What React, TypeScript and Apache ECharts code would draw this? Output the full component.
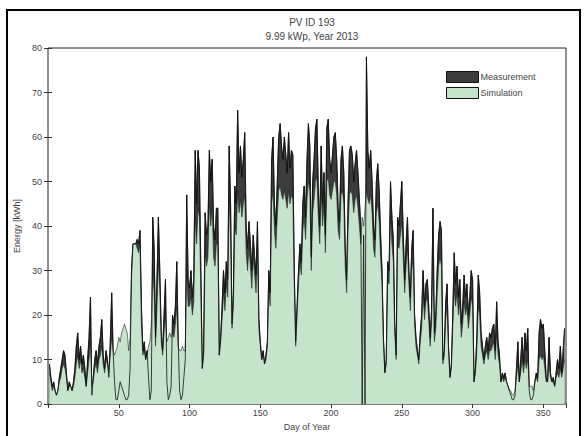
import React, { useEffect, useRef } from "react";
import * as echarts from "echarts";

const titleLines = ["PV ID 193", "9.99 kWp, Year 2013"];
const xAxisLabel = "Day of Year";
const yAxisLabel = "Energy [kWh]";
const seriesNames = ["Measurement", "Simulation"];

// daily energy, day 1..365
const measurement = [
  9, 6, 4, 5, 3, 2, 3, 6, 8, 10,
  12, 11, 7, 3, 5, 4, 3, 5, 8, 13,
  16, 10, 13, 9, 11, 8, 4, 10, 15, 24,
  2, 6, 10, 12, 9, 13, 15, 19, 11, 8,
  12, 10, 6, 14, 25, 12, 5, 1, 1, 3,
  5, 4, 3, 2, 1, 1, 2, 8, 30, 36,
  36, 36, 37, 36, 39, 22, 12, 14, 10, 12,
  6, 1, 3, 42, 35, 15, 28, 42, 30, 16,
  12, 20, 28, 5, 1, 2, 4, 20, 18, 22,
  32, 14, 3, 1, 2, 6, 10, 47, 28, 26,
  30, 24, 28, 57, 45, 57, 53, 30, 8, 12,
  43, 38, 40, 57, 50, 55, 40, 37, 44, 44,
  11, 15, 22, 30, 25, 32, 28, 58, 45, 18,
  25, 49, 45, 66, 52, 58, 51, 55, 61, 40,
  35, 41, 36, 30, 38, 33, 29, 41, 19, 14,
  10, 12, 9, 11, 14, 30, 25, 55, 60, 45,
  40, 50, 60, 63, 58, 55, 60, 56, 52, 61,
  53, 57, 56, 30, 14, 22, 30, 36, 32, 45,
  49, 42, 55, 63, 58, 33, 50, 55, 62, 64,
  48, 40, 58, 45, 52, 38, 62, 64, 55, 52,
  56, 60, 61, 55, 44, 41, 55, 58, 52, 35,
  28, 45, 57, 58, 56, 50, 54, 57, 52, 46,
  40, 0, 38, 0, 78, 57, 53, 57, 50, 40,
  37, 50, 54, 48, 38, 30, 15, 7, 10, 32,
  30, 50, 42, 37, 18, 11, 42, 40, 45, 50,
  38, 28, 36, 42, 30, 24, 35, 39, 20, 15,
  12, 10, 16, 20, 30, 22, 27, 28, 22, 15,
  21, 44, 16, 20, 30, 38, 41, 39, 10, 12,
  23, 27, 13, 6, 9, 20, 34, 27, 31, 24,
  28, 18, 22, 29, 24, 27, 20, 24, 30, 28,
  5, 8, 15, 29, 25, 16, 13, 10, 13, 15,
  12, 16, 15, 17, 18, 12, 23, 14, 11, 5,
  7, 6, 7, 5, 4, 3, 2, 1, 1, 2,
  8, 14, 5, 10, 15, 9, 16, 12, 17, 3,
  1, 1, 2, 5, 7, 6, 16, 19, 17, 18,
  12, 6, 5, 15, 7, 5, 6, 4, 7, 10,
  8, 13, 7, 12, 17,
];

const simulation = [
  7, 5, 3, 4, 3, 2, 3, 5, 6, 8,
  9, 8, 6, 3, 4, 4, 3, 4, 6, 9,
  11, 8, 10, 7, 8, 6, 4, 7, 10, 14,
  4, 5, 8, 9, 7, 10, 11, 13, 9, 7,
  10, 9, 7, 11, 15, 12, 11, 12, 13, 15,
  14, 16, 17, 18, 17, 16, 12, 15, 28, 36,
  36, 36, 35, 34, 36, 18, 11, 12, 10, 11,
  13, 14, 18, 30, 25, 13, 22, 32, 26, 14,
  11, 16, 20, 14, 15, 16, 15, 16, 15, 18,
  22, 13, 12, 12, 13, 12, 12, 30, 22, 22,
  24, 20, 23, 42, 36, 44, 42, 25, 8, 11,
  34, 31, 33, 45, 40, 44, 33, 31, 36, 36,
  11, 14, 19, 25, 21, 27, 24, 46, 38, 17,
  22, 40, 38, 48, 43, 46, 42, 45, 47, 34,
  30, 35, 31, 26, 33, 29, 25, 35, 17, 13,
  10, 11, 9, 10, 13, 26, 22, 45, 48, 39,
  35, 42, 48, 49, 47, 46, 48, 46, 44, 48,
  45, 47, 46, 27, 13, 20, 27, 32, 29, 39,
  42, 37, 46, 50, 48, 30, 43, 46, 50, 51,
  42, 36, 48, 40, 45, 34, 50, 51, 47, 46,
  48, 50, 50, 47, 39, 37, 47, 48, 45, 31,
  25, 39, 47, 48, 47, 43, 46, 47, 44, 40,
  36, 42, 40, 44, 48, 46, 45, 47, 43, 35,
  33, 43, 45, 41, 33, 27, 14, 7, 9, 28,
  27, 42, 36, 32, 16, 10, 36, 35, 38, 41,
  33, 25, 31, 35, 27, 21, 30, 33, 18, 13,
  11, 9, 14, 17, 25, 19, 23, 24, 19, 13,
  18, 33, 14, 17, 25, 31, 33, 31, 9, 11,
  19, 22, 12, 6, 8, 17, 26, 22, 25, 20,
  23, 15, 18, 23, 20, 22, 17, 20, 24, 22,
  5, 7, 12, 22, 20, 13, 11, 9, 11, 12,
  10, 12, 12, 13, 14, 10, 16, 11, 9, 5,
  6, 5, 6, 5, 4, 3, 3, 2, 2, 3,
  6, 9, 5, 7, 10, 7, 10, 8, 10, 4,
  4, 4, 3, 5, 6, 5, 10, 11, 10, 11,
  8, 5, 5, 9, 6, 5, 5, 4, 6, 7,
  6, 8, 6, 8, 10,
];

const xTicks = [50, 100, 150, 200, 250, 300, 350];
const yTicks = [0, 10, 20, 30, 40, 50, 60, 70, 80];

const FONT = "'Liberation Sans', Arial, sans-serif";

export default function App() {
  const ref = useRef<HTMLDivElement>(null);
  useEffect(() => {
    if (!ref.current) return;
    const chart = echarts.init(ref.current, undefined, { renderer: "svg" });
    const mData = measurement.map((v, i) => [i + 1, v]);
    const sData = simulation.map((v, i) => [i + 1, v]);
    const axisText = { fontFamily: FONT, fontSize: 9, color: "#444" };
    chart.setOption({
      animation: false,
      backgroundColor: "#fff",
      title: {
        text: titleLines.join("\n"),
        left: 307,
        top: 10,
        textAlign: "center",
        textStyle: { fontFamily: FONT, fontSize: 10, fontWeight: "normal", color: "#444", lineHeight: 14 },
      },
      legend: {
        left: 441,
        top: 66,
        orient: "vertical",
        itemWidth: 32,
        itemHeight: 11,
        itemGap: 4,
        textStyle: { fontFamily: FONT, fontSize: 9, color: "#444", padding: [0, 0, 0, -3] },
        data: [
          { name: seriesNames[0], icon: "rect", itemStyle: { color: "#3c3c3c", borderColor: "#111", borderWidth: 1 } },
          { name: seriesNames[1], icon: "rect", itemStyle: { color: "#c6e4cc", borderColor: "#111", borderWidth: 1 } },
        ],
      },
      grid: { left: 48, right: 18, top: 48, bottom: 30, show: true, borderColor: "#222", borderWidth: 1, backgroundColor: "transparent" },
      xAxis: [
        {
          type: "value",
          min: 0,
          max: 366,
          interval: 50,
          name: xAxisLabel,
          nameLocation: "middle",
          nameGap: 17,
          nameTextStyle: axisText,
          axisLine: { show: false },
          axisTick: { show: true, inside: true, length: 4, lineStyle: { color: "#333" } },
          splitLine: { show: false },
          axisLabel: {
            ...axisText,
            margin: 4,
            showMinLabel: false,
            showMaxLabel: false,
            formatter: (v: number) => (xTicks.includes(v) ? String(v) : ""),
          },
        },
        {
          type: "value",
          position: "top",
          min: 0,
          max: 366,
          interval: 50,
          axisLine: { show: false },
          axisTick: { show: true, inside: true, length: 4, lineStyle: { color: "#333" } },
          splitLine: { show: false },
          axisLabel: { show: false },
        },
      ],
      yAxis: [
        {
          type: "value",
          min: 0,
          max: 80,
          interval: 10,
          name: yAxisLabel,
          nameLocation: "middle",
          nameGap: 26,
          nameTextStyle: axisText,
          axisLine: { show: false },
          axisTick: { show: true, inside: true, length: 4, lineStyle: { color: "#333" } },
          splitLine: { show: false },
          axisLabel: {
            ...axisText,
            margin: 6,
            formatter: (v: number) => (yTicks.includes(v) ? String(v) : ""),
          },
        },
        {
          type: "value",
          position: "right",
          min: 0,
          max: 80,
          interval: 10,
          axisLine: { show: false },
          axisTick: { show: true, inside: true, length: 4, lineStyle: { color: "#333" } },
          splitLine: { show: false },
          axisLabel: { show: false },
        },
      ],
      graphic: [
        {
          type: "rect",
          shape: { x: 7, y: 10, width: 573, height: 440 },
          style: { fill: "none", stroke: "#000", lineWidth: 2 },
          silent: true,
          z: 100,
        },
      ],
      series: [
        {
          name: seriesNames[0],
          type: "line",
          data: mData,
          symbol: "none",
          lineStyle: { color: "#111", width: 0.8 },
          itemStyle: { color: "#3c3c3c" },
          areaStyle: { color: "#3c3c3c", opacity: 1 },
          z: 1,
        },
        {
          name: seriesNames[1],
          type: "line",
          data: sData,
          symbol: "none",
          lineStyle: { color: "#1a2a1e", width: 0.6 },
          itemStyle: { color: "#c6e4cc" },
          areaStyle: { color: "#c6e4cc", opacity: 1 },
          z: 2,
        },
        {
          name: "Measurement line",
          type: "line",
          data: mData,
          symbol: "none",
          lineStyle: { color: "#111", width: 0.8 },
          z: 3,
        },
      ],
    });
    return () => chart.dispose();
  }, []);
  return <div ref={ref} style={{ width: 584, height: 436, position: "absolute", left: 0, top: 0 }} />;
}
